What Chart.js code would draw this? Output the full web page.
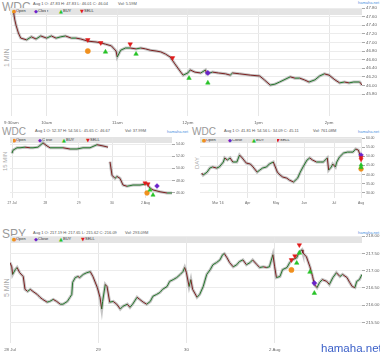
<!DOCTYPE html>
<html lang="en">
<head>
  <meta charset="UTF-8" />
  <title>WDC / SPY charts</title>

  <!-- Chart.js for plotting -->
  <script src="https://cdn.jsdelivr.net/npm/chart.js"></script>

  <style>
    body {
      margin: 0;
      width: 380px;
      height: 358px;
      position: relative;
      overflow: hidden;
      background: #fff;
      font-family: "Liberation Sans", Arial, sans-serif;
    }
    canvas, .t, .bar { position: absolute; }
    .t { white-space: pre; line-height: 1; }
    .title { color: #999; font-size: 12px; }
    .info { color: #555; font-size: 4px; }
    .site { color: #4a8fe0; font-size: 4px; }
    .period { color: #aaa; font-size: 7px; transform-origin: 0 0; transform: rotate(-90deg); }
    .bar { background: #e4e4e4; }
    .bar span { position: absolute; top: 1px; font-size: 4px; line-height: 1; color: #333; white-space: pre; }
    .bar span.s { font-size: 5px; top: 0.5px; font-family: "DejaVu Sans", sans-serif; }
    .mark { color: #3a5fc8; font-size: 11.5px; }
  </style>
</head>
<body>
  <!-- 1 MIN WDC -->
  <div class="t title" style="left:2px; top:1px;">WDC</div>
  <div class="t info" style="left:33px; top:2px;">Aug 1 O: 47.83 H: 47.83 L: 46.01 C: 46.04</div>
  <div class="t info" style="left:118px; top:2px;">Vol: 5.59M</div>
  <div class="t site" style="left:358px; top:1px;">hamaha.net</div>
  <div class="bar" id="lg1" style="left:10px; top:8px; width:352px; height:7px;"></div>
  <div class="t period" style="left:3px; top:67px;">1 MIN</div>

  <!-- 15 MIN WDC -->
  <div class="t title" style="left:2px; top:127px; font-size:10px;">WDC</div>
  <div class="t info" style="left:35px; top:129px;">Aug 1 O: 52.37 H: 54.56 L: 45.65 C: 46.67</div>
  <div class="t info" style="left:125px; top:129px;">Vol: 37.99M</div>
  <div class="t site" style="left:167px; top:130px;">hamaha.net</div>
  <div class="bar" id="lg2" style="left:10px; top:137px; width:162px; height:6px;"></div>
  <div class="t period" style="left:2px; top:171px; font-size:6px;">15 MIN</div>

  <!-- DAY WDC -->
  <div class="t title" style="left:192px; top:127px; font-size:10px;">WDC</div>
  <div class="t info" style="left:224px; top:129px;">Aug 1 O: 41.81 H: 54.56 L: 34.09 C: 45.11</div>
  <div class="t info" style="left:313px; top:129px;">Vol: 761.08M</div>
  <div class="t site" style="left:358px; top:130px;">hamaha.net</div>
  <div class="bar" id="lg3" style="left:200px; top:137px; width:162px; height:6px;"></div>
  <div class="t period" style="left:194px; top:169px; font-size:6px;">DAY</div>

  <!-- 5 MIN SPY -->
  <div class="t title" style="left:2px; top:228px;">SPY</div>
  <div class="t info" style="left:33px; top:231px;">Aug 1 O: 217.19 H: 217.65 L: 215.62 C: 216.09</div>
  <div class="t info" style="left:125px; top:231px;">Vol: 293.09M</div>
  <div class="t site" style="left:358px; top:231px;">hamaha.net</div>
  <div class="bar" id="lg4" style="left:10px; top:236px; width:352px; height:7px;"></div>
  <div class="t period" style="left:3px; top:297px;">5 MIN</div>

  <canvas id="c1" width="380" height="128" style="left:0; top:0;"></canvas>
  <canvas id="c2" width="190" height="85" style="left:0; top:125px;"></canvas>
  <canvas id="c3" width="190" height="85" style="left:190px; top:125px;"></canvas>
  <canvas id="c4" width="380" height="133" style="left:0; top:225px;"></canvas>

  <div class="t mark" style="left:321px; top:343px;">hamaha.net</div>

  <script>
    // ---- 1 MIN WDC (x = minutes after 9:30) ----
    const m1Time = [2,3,4,6,8,13,17,21,25,30,34,38,42,46,51,55,59,65,72,76,80,85,89,90,93,97,101,106,110,114,118,123,127,131,135,139,144,146,150,152,156,161,165,166,171,176,182,186,188,194,203,211,215,220,224,228,237,241,245,249,253,258,262,266,270,275,279,283,287,291,296,298];
    const m1Price = [47.68,47.52,47.40,47.22,47.10,47.06,47.13,47.08,47.15,47.10,47.15,47.10,47.13,47.15,47.10,47.10,47.08,47.03,47.01,46.99,46.96,46.92,46.80,46.66,46.82,46.87,46.87,46.85,46.87,46.85,46.82,46.80,46.78,46.73,46.66,46.50,46.31,46.24,46.29,46.36,46.31,46.29,46.36,46.27,46.31,46.29,46.27,46.24,46.29,46.27,46.24,46.22,46.13,46.01,46.03,46.08,46.20,46.17,46.17,46.13,46.08,46.13,46.22,46.27,46.24,46.13,46.06,46.08,46.06,46.08,46.08,46.01];
    const m1Open = [[65, 46.80]];
    const m1Close = [[167, 46.29]];
    const m1Buy = [[80, 46.78], [106, 46.73], [151, 46.17], [167, 46.06]];
    const m1Sell = [[65, 47.06], [76, 46.99], [101, 46.96], [137, 46.64]];
    const m1TickVals = [0, 30, 90, 150, 210, 270];
    const m1TickText = ['9:30am', '10am', '11am', '12pm', '1pm', '2pm'];
    const m1PriceTicks = [45.8, 46.0, 46.2, 46.4, 46.6, 46.8, 47.0, 47.2, 47.4, 47.6, 47.8];

    // ---- 15 MIN WDC (x = trading days from 27 Jul) ----
    const m15Day = [0,0.03,0.15,0.24,0.39,0.54,0.63,0.78,0.93,1.05,1.14,1.35,1.53,1.74,1.95,2.13,2.34,2.55,2.73,2.88,2.91,2.94,3.00,3.09,3.15,3.24,3.33,3.45,3.63,3.84,4.05,4.14,4.23,4.44,4.65,4.80];
    const m15Price = [52.5,53.0,53.4,53.4,53.5,53.4,53.4,53.5,54.2,53.7,53.4,53.4,53.4,53.2,53.2,53.4,53.4,53.9,53.7,53.5,null,51.1,48.9,48.4,48.7,48.4,47.3,47.1,47.3,47.3,47.5,46.8,46.5,46.2,46.0,46.0];
    const m15Open = [[4.05, 46.0]];
    const m15Close = [[4.35, 47.14]];
    const m15Buy = [[4.14, 46.49], [4.23, 45.67]];
    const m15Sell = [[3.99, 47.63], [4.08, 47.47]];
    const m15TickVals = [0, 1, 2, 3, 4];
    const m15TickText = ['27 Jul', '28', '29', '30', '2 Aug'];
    const m15PriceTicks = [46, 47, 48, 49, 50, 51, 52, 53, 54, 55];

    // ---- DAY WDC (x = trading days from 1 Mar) ----
    const dayIdx = [-12,-11,-8,-6,-4,-1,1,4,5,7,9,11,14,16,18,21,24,26,29,31,33,36,38,41,44,46,48,51,53,56,59,61,63,66,68,70,73,76,78,81,82,84,85,87,88,90,93,96,98,100,102,104,106];
    const dayPrice = [40.9,39.8,41.4,43.6,44.2,43.6,44.2,46.9,49.1,48.0,49.1,46.9,46.9,50.7,49.1,46.3,45.8,44.2,41.4,42.5,43.6,44.2,45.8,46.9,41.4,39.8,38.7,38.1,37.0,36.0,38.1,41.4,44.2,48.0,49.1,48.0,46.9,46.9,46.9,49.1,42.5,44.2,45.8,44.2,46.9,49.6,51.8,52.3,52.3,52.3,54.0,53.4,49.1];
    const dayOpen = [[106, 43.1]];
    const dayClose = [[106, 50.7]];
    const dayBuy = [[106, 45.3], [106, 43.9]];
    const daySell = [[106, 49.3], [106, 48.3]];
    const dayTickVals = [0, 22, 43, 64, 86, 106];
    const dayTickText = ["Mar '16", 'Apr', 'May', 'Jun', 'Jul', 'Aug'];
    const dayPriceTicks = [30, 35, 40, 45, 50, 55, 60];

    // ---- 5 MIN SPY (x = trading days from 28 Jul) ----
    const spyDay = [0.00,0.02,0.03,0.06,0.08,0.11,0.15,0.17,0.20,0.23,0.26,0.31,0.34,0.37,0.42,0.45,0.49,0.53,0.57,0.60,0.65,0.68,0.70,0.71,0.74,0.77,0.79,0.83,0.87,0.91,0.94,0.99,1.02,1.04,1.05,1.08,1.10,1.13,1.17,1.21,1.25,1.28,1.33,1.36,1.39,1.44,1.47,1.51,1.55,1.59,1.62,1.66,1.70,1.73,1.78,1.81,1.85,1.89,1.93,1.96,1.98,2.00,2.03,2.05,2.07,2.12,2.15,2.19,2.23,2.27,2.30,2.34,2.38,2.41,2.43,2.46,2.49,2.53,2.57,2.60,2.64,2.68,2.72,2.75,2.80,2.83,2.87,2.91,2.94,2.98,3.00,3.02,3.06,3.09,3.14,3.17,3.20,3.25,3.28,3.31,3.32,3.36,3.40,3.43,3.45,3.48,3.51,3.54,3.59,3.62,3.66,3.70,3.74,3.77,3.82,3.85,3.88,3.91,3.93,3.96,3.99];
    const spyPrice = [217.23,217.11,216.89,217.03,217.09,216.94,216.83,216.46,216.40,216.46,216.40,216.31,216.23,216.17,216.09,216.11,216.17,216.11,216.03,216.03,216.11,216.23,216.31,216.66,216.80,216.83,216.80,216.89,216.94,216.97,216.83,216.51,216.23,215.89,216.11,216.60,216.54,216.09,216.11,216.03,215.89,215.97,216.03,215.94,216.03,216.23,216.17,216.09,216.03,216.11,216.26,216.31,216.37,216.46,216.54,216.69,216.74,216.80,216.89,216.97,217.09,216.94,216.54,216.74,216.46,216.23,216.31,216.54,216.89,217.03,217.17,217.23,217.31,217.46,217.49,217.37,217.23,217.11,217.17,217.26,217.31,217.17,217.23,217.31,217.17,217.09,217.11,217.09,217.11,217.46,217.11,216.80,216.83,217.03,217.09,217.23,217.31,217.37,217.54,217.60,217.51,217.40,217.11,216.83,216.60,216.51,216.66,216.74,216.69,216.60,216.80,216.94,216.83,216.89,216.80,216.66,216.54,216.51,216.69,216.74,216.89];
    const spyOpen = [[3.19, 217.02]];
    const spyClose = [[3.45, 216.64]];
    const spyBuy = [[3.25, 217.22], [3.28, 217.51], [3.40, 216.96], [3.45, 216.35]];
    const spySell = [[3.19, 217.31], [3.23, 217.42], [3.28, 217.74]];
    const spyTickVals = [0, 1, 2, 3];
    const spyTickText = ['28 Jul', '29', '30', '2 Aug'];
    const spyPriceTicks = [215.5, 216.0, 216.5, 217.0, 217.5, 218.0];

    // candle-ish colours: up moves green, down moves dark red
    const UP = '#23772a';
    const DOWN = '#7c2020';

    Chart.defaults.font.family = '"Liberation Sans", Arial, sans-serif';

    // Legend strip (Open / Close / BUY / SELL)
    function addLegend(id, offs) {
      const bar = document.getElementById(id);
      const items = [['●', '#f0901e', 'Open'], ['◆', '#6a22c9', 'Close'], ['▲', '#27c227', 'BUY'], ['▼', '#e01b1b', 'SELL']];
      items.forEach((it, i) => {
        const s = document.createElement('span');
        s.className = 's';
        s.style.left = offs[i] + 'px';
        s.style.color = it[1];
        s.textContent = it[0];
        bar.appendChild(s);
        const t = document.createElement('span');
        t.style.left = (offs[i] + 4) + 'px';
        t.textContent = it[2];
        bar.appendChild(t);
      });
    }

    // One price panel: line + wick shadow + trade markers
    function makePanel(id, cfg) {
      const ctx = document.getElementById(id).getContext('2d');
      const line = cfg.xs.map((x, i) => ({ x: x, y: cfg.ys[i] }));
      const mk = list => list.map(p => ({ x: p[0], y: p[1] }));
      const marker = (list, style, color, rot) => ({
        data: mk(list), showLine: false, clip: false,
        pointStyle: style, rotation: rot || 0, pointRadius: cfg.r,
        backgroundColor: color, borderColor: color, borderWidth: 0.5
      });

      return new Chart(ctx, {
        type: 'line',
        data: {
          datasets: [
            marker(cfg.sell, 'triangle', '#e01b1b', 180),
            marker(cfg.buy, 'triangle', '#27c227'),
            marker(cfg.close, 'rectRot', '#6a22c9'),
            marker(cfg.open, 'circle', '#f0901e'),
            {
              data: line, borderWidth: 1, pointRadius: 0, borderColor: '#333',
              segment: { borderColor: c => c.p1.parsed.y >= c.p0.parsed.y ? UP : DOWN }
            },
            { data: line, borderWidth: 3, pointRadius: 0, borderColor: 'rgba(90,90,90,0.35)' }
          ]
        },
        options: {
          responsive: false,
          animation: false,
          devicePixelRatio: 1,
          layout: { padding: { left: cfg.padL, top: cfg.padT, right: 0, bottom: 0 } },
          plugins: { legend: { display: false }, tooltip: { enabled: false } },
          scales: {
            x: {
              type: 'linear', min: cfg.xMin, max: cfg.xMax,
              afterBuildTicks: s => { s.ticks = cfg.xTicks.map(v => ({ value: v })); },
              afterFit: s => { s.height = cfg.xH; },
              ticks: {
                callback: (v, i) => cfg.xText[i],
                font: { size: cfg.fs }, color: '#666', padding: cfg.xPad,
                maxRotation: 0, autoSkip: false
              },
              grid: { color: '#e6e6e6', drawTicks: false },
              border: { display: false }
            },
            y: {
              position: 'right', min: cfg.yMin, max: cfg.yMax,
              afterBuildTicks: s => { s.ticks = cfg.yTicks.map(v => ({ value: v })); },
              afterFit: s => { s.width = 18; },
              ticks: { callback: v => v.toFixed(2), font: { size: cfg.fs }, color: '#666', padding: 1 },
              grid: { color: '#ececec', tickLength: 3, tickColor: '#aaa' },
              border: { display: false }
            }
          }
        }
      });
    }

    addLegend('lg1', [2, 24, 49, 70]);
    addLegend('lg2', [2, 28, 52, 76]);
    addLegend('lg3', [2, 28, 52, 76]);
    addLegend('lg4', [2, 24, 49, 71]);

    makePanel('c1', {
      xs: m1Time, ys: m1Price, open: m1Open, close: m1Close, buy: m1Buy, sell: m1Sell,
      xMin: 0, xMax: 298, xTicks: m1TickVals, xText: m1TickText,
      yMin: 45.29, yMax: 47.8, yTicks: m1PriceTicks,
      padL: 10, padT: 8, xH: 12, xPad: 4, fs: 4.4, r: 2.6
    });

    makePanel('c2', {
      xs: m15Day, ys: m15Price, open: m15Open, close: m15Close, buy: m15Buy, sell: m15Sell,
      xMin: -0.06, xMax: 4.8, xTicks: m15TickVals, xText: m15TickText,
      yMin: 45.18, yMax: 55, yTicks: m15PriceTicks,
      padL: 10, padT: 13, xH: 12, xPad: 3, fs: 3.4, r: 2.4
    });

    makePanel('c3', {
      xs: dayIdx, ys: dayPrice, open: dayOpen, close: dayClose, buy: dayBuy, sell: daySell,
      xMin: -13.3, xMax: 106.7, xTicks: dayTickVals, xText: dayTickText,
      yMin: 27.27, yMax: 60, yTicks: dayPriceTicks,
      padL: 10, padT: 13, xH: 12, xPad: 3, fs: 3.4, r: 2.4
    });

    makePanel('c4', {
      xs: spyDay, ys: spyPrice, open: spyOpen, close: spyClose, buy: spyBuy, sell: spySell,
      xMin: 0, xMax: 3.99, xTicks: spyTickVals, xText: spyTickText,
      yMin: 214.91, yMax: 218, yTicks: spyPriceTicks,
      padL: 10, padT: 11, xH: 15, xPad: 4, fs: 4.4, r: 2.6
    });
  </script>
</body>
</html>
